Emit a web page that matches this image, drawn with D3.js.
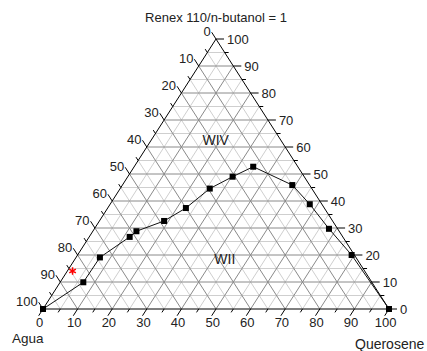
<!DOCTYPE html>
<head>
<meta charset="utf-8" />
<script src="https://d3js.org/d3.v7.min.js"></script>
<style>
    body {
        margin: 0;
        background: #fff;
        font-family: Arial, "Liberation Sans", sans-serif;
    }
</style>
</head>

<body>
    <div id="chart"></div>

    <script>
        // composição (%): Agua + Querosene + Renex/butanol = 100
        var aguaVals      = [100, 83.4, 74.0, 61.6, 58.6, 48.7, 40.0, 29.5, 20.7, 12.9, 5.0, 3.5, 2.5, 0.8, 0];
        var queroseneVals = [0, 6.7, 6.9, 11.7, 12.6, 18.7, 22.6, 25.9, 30.3, 34.4, 49.1, 57.7, 67.8, 79.2, 100];
        var renexVals     = [0, 9.9, 19.1, 26.7, 28.8, 32.6, 37.4, 44.6, 49.0, 52.7, 45.9, 38.8, 29.7, 20.0, 0];

        // ponto vermelho (*)
        var pontoAgua = [84.4], pontoQuerosene = [1.5], pontoRenex = [14.1];

        var tickVals = d3.range(0, 101, 5);
        var tickLabels = d3.range(0, 101, 10);

        var regioes = ["WIV", "WII"];
        var regiaoQ = [18.6, 43.3];
        var regiaoT = [62.6, 18.5];

        var width = 427, height = 351;

        var svg = d3.select("#chart")
                    .append("svg")
                    .attr("width", width)
                    .attr("height", height)
                    .style("font-family", "Arial, 'Liberation Sans', sans-serif");

        // x: querosene + renex/2 ; y: renex
        var x = d3.scaleLinear().domain([0, 100]).range([43, 389]);
        var y = d3.scaleLinear().domain([0, 100]).range([309, 39]);

        function px(q, t) { return x(q + t / 2); }
        function py(t) { return y(t); }

        // direcoes dos ticks
        var dl = [px(0, 100) - px(100, 0), py(100) - py(0)];   // paralelo ao lado direito
        var ln = Math.hypot(dl[0], dl[1]); dl = [dl[0] / ln, dl[1] / ln];
        var db = [px(0, 0) - px(0, 100), py(0) - py(100)];     // paralelo ao lado esquerdo
        ln = Math.hypot(db[0], db[1]); db = [db[0] / ln, db[1] / ln];

        // grade
        var grid = svg.append("g");
        var gridLines = [];
        d3.range(5, 100, 5).forEach(function(v) {
            var major = v % 10 === 0;
            gridLines.push({ a: [0, v], b: [100 - v, v], major: major });          // renex
            gridLines.push({ a: [v, 0], b: [v, 100 - v], major: major });          // querosene
            gridLines.push({ a: [100 - v, 0], b: [0, 100 - v], major: major });    // agua
        });
        grid.selectAll("line")
            .data(gridLines.filter(function(d) { return !d.major; }).concat(gridLines.filter(function(d) { return d.major; })))
            .join("line")
            .attr("x1", function(d) { return px(d.a[0], d.a[1]); })
            .attr("y1", function(d) { return py(d.a[1]); })
            .attr("x2", function(d) { return px(d.b[0], d.b[1]); })
            .attr("y2", function(d) { return py(d.b[1]); })
            .attr("stroke", function(d) { return d.major ? "#8a8a8a" : "#cfcfcf"; })
            .attr("stroke-width", 1);

        // triangulo
        svg.append("path")
            .attr("d", "M" + px(0, 0) + "," + py(0) + "L" + px(100, 0) + "," + py(0) + "L" + px(0, 100) + "," + py(100) + "Z")
            .attr("fill", "none")
            .attr("stroke", "#000")
            .attr("stroke-width", 1);

        var axes = svg.append("g").attr("font-size", "13px").attr("fill", "#222");

        // eixo direito (renex): 100 no topo
        tickVals.forEach(function(v) {
            var len = v % 10 === 0 ? 8 : 4;
            var x0 = px(100 - v, v), y0 = py(v);
            axes.append("line").attr("x1", x0).attr("y1", y0).attr("x2", x0 + len).attr("y2", y0)
                .attr("stroke", "#000");
            if (v % 10 === 0) {
                axes.append("text").attr("x", x0 + 11).attr("y", y0).attr("dy", "0.35em")
                    .attr("text-anchor", "start").text(v);
            }
        });

        // eixo esquerdo (agua): 0 no topo, 100 em baixo
        tickVals.forEach(function(v) {
            var len = v % 10 === 0 ? 8 : 4;
            var x0 = px(0, 100 - v), y0 = py(100 - v);
            var x1 = x0 + dl[0] * len, y1 = y0 + dl[1] * len;
            axes.append("line").attr("x1", x0).attr("y1", y0).attr("x2", x1).attr("y2", y1)
                .attr("stroke", "#000");
            if (v % 10 === 0) {
                axes.append("text").attr("x", x1 - 1).attr("y", y1 - 1).attr("dy", "0.35em")
                    .attr("text-anchor", "end").text(v);
            }
        });

        // eixo inferior (querosene)
        tickVals.forEach(function(v) {
            var len = v % 10 === 0 ? 8 : 4;
            var x0 = px(v, 0), y0 = py(0);
            var x1 = x0 + db[0] * len, y1 = y0 + db[1] * len;
            axes.append("line").attr("x1", x0).attr("y1", y0).attr("x2", x1).attr("y2", y1)
                .attr("stroke", "#000");
            if (v % 10 === 0) {
                axes.append("text").attr("x", x0 + db[0] * 8 + 1).attr("y", y0 + db[1] * 8 + 11)
                    .attr("text-anchor", "middle").text(v);
            }
        });

        // titulos
        svg.append("text").attr("x", 216).attr("y", 22).attr("text-anchor", "middle")
            .attr("font-size", "13px").attr("fill", "#222").text("Renex 110/n-butanol = 1");
        svg.append("text").attr("x", 12).attr("y", 343)
            .attr("font-size", "13.5px").attr("fill", "#222").text("Agua");
        svg.append("text").attr("x", 355).attr("y", 349)
            .attr("font-size", "14px").attr("fill", "#222").text("Querosene");

        svg.selectAll(".regiao")
            .data(regioes)
            .join("text")
            .attr("class", "regiao")
            .attr("x", function(d, i) { return px(regiaoQ[i], regiaoT[i]); })
            .attr("y", function(d, i) { return py(regiaoT[i]); })
            .attr("dy", "0.35em")
            .attr("text-anchor", "middle")
            .attr("font-size", "14px")
            .attr("fill", "#222")
            .text(function(d) { return d; });

        // curva binodal
        var pontos = aguaVals.map(function(a, i) {
            var s = a + queroseneVals[i] + renexVals[i];
            return { q: queroseneVals[i] * 100 / s, t: renexVals[i] * 100 / s };
        });

        var line = d3.line()
            .x(function(d) { return px(d.q, d.t); })
            .y(function(d) { return py(d.t); });

        svg.append("path")
            .datum(pontos)
            .attr("d", line)
            .attr("fill", "none")
            .attr("stroke", "#111")
            .attr("stroke-width", 1);

        svg.selectAll(".ponto")
            .data(pontos)
            .join("rect")
            .attr("class", "ponto")
            .attr("x", function(d) { return px(d.q, d.t) - 3; })
            .attr("y", function(d) { return py(d.t) - 3; })
            .attr("width", 6)
            .attr("height", 6)
            .attr("fill", "#000");

        svg.selectAll(".estrela")
            .data(pontoAgua.map(function(a, i) { return { q: pontoQuerosene[i], t: pontoRenex[i] }; }))
            .join("path")
            .attr("class", "estrela")
            .attr("transform", function(d) { return "translate(" + px(d.q, d.t) + "," + py(d.t) + ")"; })
            .attr("d", d3.symbol(d3.symbolAsterisk, 40))
            .attr("fill", "none")
            .attr("stroke", "#f00")
            .attr("stroke-width", 1.5);
    </script>
</body>
